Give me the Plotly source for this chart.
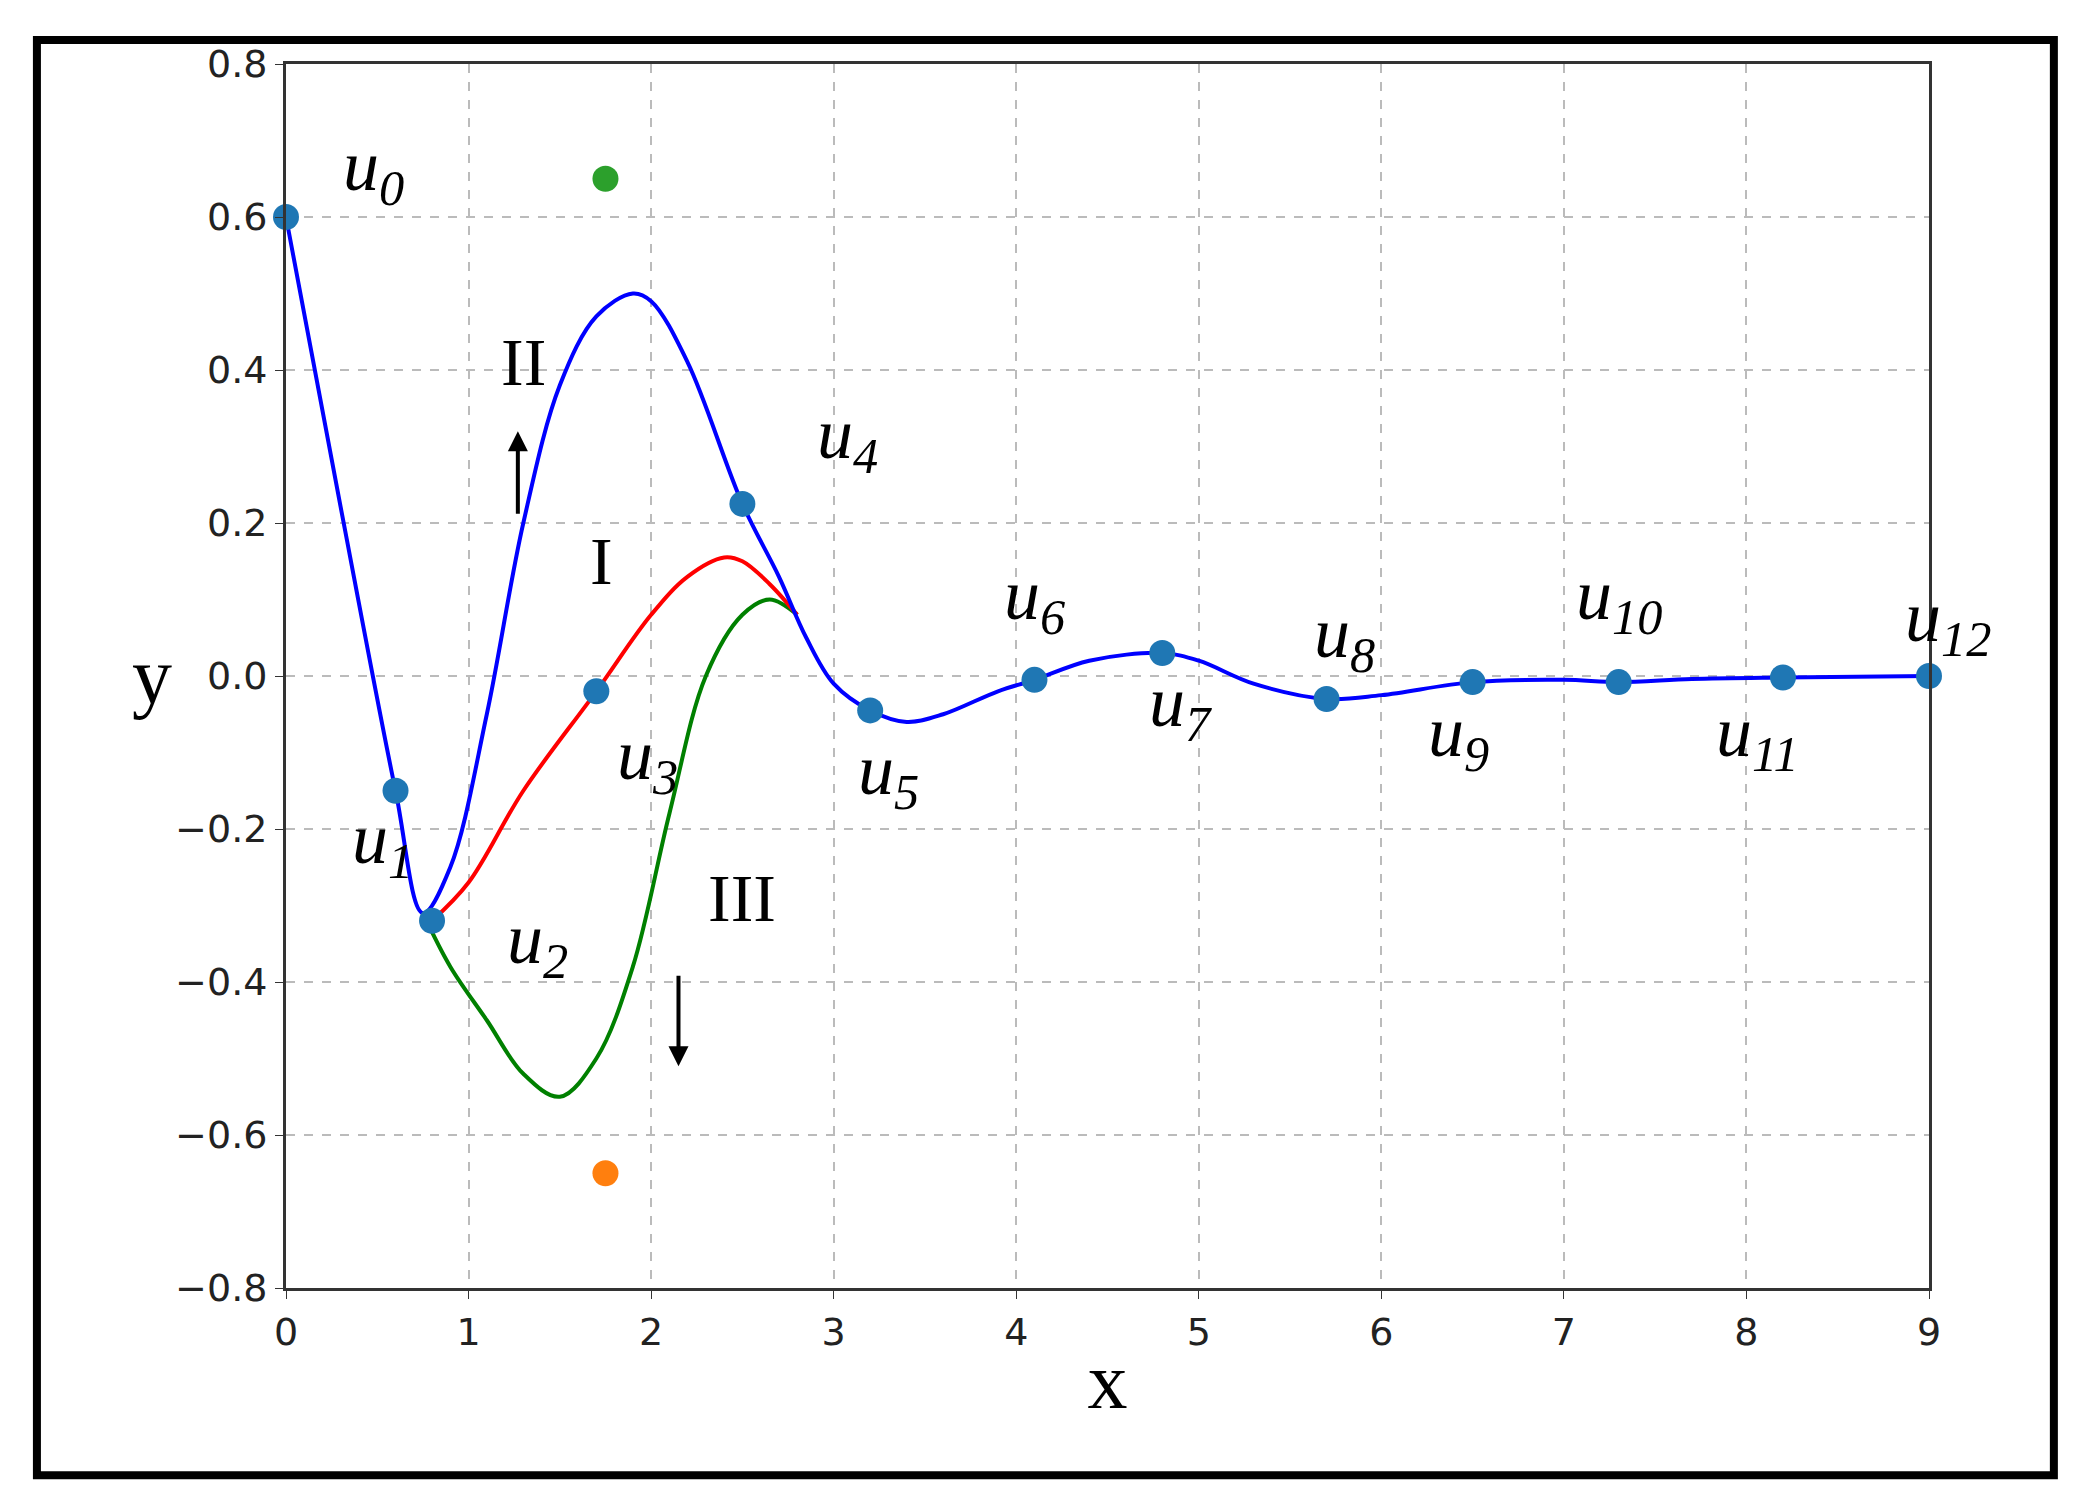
import plotly.graph_objects as go

# data
ux = [0, 0.6, 0.8, 1.7, 2.5, 3.2, 4.1, 4.8, 5.7, 6.5, 7.3, 8.2, 9]
uy = [0.6, -0.15, -0.32, -0.02, 0.225, -0.045, -0.005, 0.03, -0.03, -0.008, -0.008, -0.002, 0.0]
blue_x = [0, 0.3, 0.6, 0.75, 0.9, 1.1, 1.3, 1.5, 1.7, 1.9, 2.0, 2.2, 2.5, 2.7, 2.85, 3.0, 3.2, 3.4, 3.6, 3.9, 4.1, 4.4, 4.8, 5.0, 5.3, 5.7, 6.0, 6.5, 7.0, 7.3, 7.7, 8.2, 9]
blue_y = [0.6, 0.22, -0.15, -0.31, -0.25, -0.05, 0.2, 0.38, 0.47, 0.5, 0.49, 0.41, 0.225, 0.13, 0.05, -0.01, -0.045, -0.06, -0.05, -0.02, -0.005, 0.02, 0.03, 0.02, -0.01, -0.03, -0.025, -0.008, -0.005, -0.008, -0.004, -0.002, 0]
red_x = [0.8, 1.0, 1.3, 1.7, 2.0, 2.2, 2.4, 2.5, 2.65, 2.8]
red_y = [-0.32, -0.27, -0.15, -0.02, 0.08, 0.13, 0.155, 0.15, 0.12, 0.08]
green_x = [0.75, 0.9, 1.1, 1.3, 1.5, 1.7, 1.9, 2.1, 2.3, 2.5, 2.65, 2.8]
green_y = [-0.31, -0.38, -0.45, -0.52, -0.55, -0.5, -0.38, -0.18, 0.0, 0.08, 0.1, 0.08]
ctrl_green = (1.75, 0.65)
ctrl_orange = (1.75, -0.65)
labels = ["0", "1", "2", "3", "4", "5", "6", "7", "8", "9", "10", "11", "12"]
label_x = [0.3, 0.35, 1.2, 1.8, 2.9, 3.3, 4.1, 4.9, 5.8, 6.6, 7.55, 8.3, 9.35]
label_y = [0.66, -0.22, -0.35, -0.11, 0.31, -0.13, 0.1, -0.04, 0.05, -0.08, 0.1, -0.08, 0.07]

fig = go.Figure()
fig.add_trace(go.Scatter(x=green_x, y=green_y, mode="lines", line=dict(color="green", width=4, shape="spline")))
fig.add_trace(go.Scatter(x=red_x, y=red_y, mode="lines", line=dict(color="red", width=4, shape="spline")))
fig.add_trace(go.Scatter(x=blue_x, y=blue_y, mode="lines", line=dict(color="blue", width=4, shape="spline")))
fig.add_trace(go.Scatter(x=ux, y=uy, mode="markers", marker=dict(color="#1f77b4", size=26), cliponaxis=False))
fig.add_trace(go.Scatter(x=[ctrl_green[0], ctrl_orange[0]], y=[ctrl_green[1], ctrl_orange[1]], mode="markers",
                         marker=dict(color=["#2ca02c", "#ff7f0e"], size=26)))

serif = "Liberation Serif"
x0, x1 = 0, 9
for lab, lx, ly in zip(labels, label_x, label_y):
    fig.add_annotation(x=(lx - x0) / (x1 - x0), xref="paper", y=ly, text=f"<i>u<sub>{lab}</sub></i>",
                       showarrow=False, font=dict(family=serif, size=72, color="black"))
for t, tx, ty in [("II", 1.3, 0.41), ("I", 1.73, 0.15), ("III", 2.5, -0.29)]:
    fig.add_annotation(x=tx, y=ty, text=t, showarrow=False, font=dict(family=serif, size=68, color="black"))
fig.add_annotation(x=1.27, y=0.32, ax=1.27, ay=0.21, axref="x", ayref="y", text="", showarrow=True,
                   arrowhead=2, arrowwidth=4, arrowsize=1, arrowcolor="black")
fig.add_annotation(x=2.15, y=-0.51, ax=2.15, ay=-0.39, axref="x", ayref="y", text="", showarrow=True,
                   arrowhead=2, arrowwidth=4, arrowsize=1, arrowcolor="black")
fig.add_annotation(x=-0.095, xref="paper", y=0.5, yref="paper", text="y", showarrow=False,
                   font=dict(family=serif, size=80, color="black"))

ax_common = dict(showline=True, mirror=True, linecolor="#333", linewidth=3, showgrid=True,
                 gridcolor="#bbb", griddash="dash", gridwidth=1.5, zeroline=False, ticks="outside",
                 ticklen=8, tickcolor="#333", tickfont=dict(family="DejaVu Sans", size=38, color="#222"))
fig.update_xaxes(range=[x0, x1], dtick=1, title=dict(text="x", font=dict(family=serif, size=80, color="black"), standoff=0), **ax_common)
fig.update_yaxes(range=[-0.8, 0.8], dtick=0.2, tickformat=".1f", **ax_common)
fig.add_shape(type="rect", xref="paper", yref="paper", x0=-0.1516, x1=1.076, y0=-0.153, y1=1.0196,
              line=dict(color="black", width=8))
fig.update_layout(width=2073, height=1498, margin=dict(l=278, r=152, t=56, b=218),
                  plot_bgcolor="white", paper_bgcolor="white", showlegend=False)
fig.write_html("out.html")
